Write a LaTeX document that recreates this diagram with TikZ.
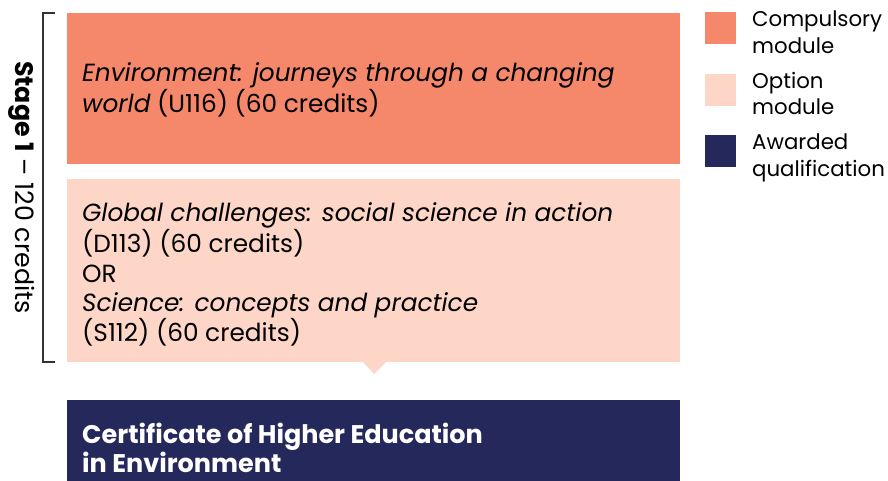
\documentclass[tikz,border=0pt]{standalone}
\usepackage{fontspec}
\setmainfont{Poppins}
\definecolor{comp}{HTML}{F5876B}
\definecolor{opt}{HTML}{FDD6C8}
\definecolor{navy}{HTML}{25285B}
\definecolor{brk}{HTML}{333333}
\begin{document}
\begin{tikzpicture}[x=1pt,y=-1pt,
  box/.style={inner sep=0},
  main/.style={anchor=base west,align=left,inner sep=0,font=\fontsize{24.8}{29.8}\selectfont},
  leg/.style={anchor=base west,align=left,inner sep=0,font=\fontsize{21.3}{26.5}\selectfont},
  swatch/.style={inner sep=0}]
\useasboundingbox (0,0) rectangle (888,481);
\fill[white] (0,0) rectangle (888,481);
% boxes
\fill[comp] (67,13) rectangle (680,164);
\node[box] (comp) at (373.5,88.5) {};
\fill[opt] (67,179) rectangle (680,362);
\fill[opt] (362,361) -- (374,374) -- (387,361) -- cycle;
\node[box] (opt) at (373.5,270.5) {};
\fill[navy] (67,400) rectangle (680,481);
\node[box] (cert) at (373.5,440) {};
% texts
\node[main] (t1) at (82,112.3) {\textit{Environment: journeys through a changing}\\\textit{world} (U116) (60 credits)};
\node[main] (t2) at (82,341.7) {\textit{Global challenges: social science in action}\\(D113) (60 credits)\\OR\\\textit{Science: concepts and practice}\\(S112) (60 credits)};
\node[main,text=white,font=\fontsize{25.5}{29}\selectfont\bfseries] (t3) at (82,472) {Certificate of Higher Education\\in Environment};
% bracket
\draw[brk,line width=1.2pt] (55,13) -- (43,13) -- (43,362) -- (55,362);
\node[rotate=-90,inner sep=0,font=\fontsize{25.3}{30}\selectfont] (stage) at (22,187.5) {\textbf{Stage 1} – 120 credits};
% legend
\fill[comp] (705,12) rectangle (736,44);
\fill[opt] (705,74) rectangle (736,106);
\fill[navy] (705,135) rectangle (736,167);
\node[leg] (l1) at (752,53.5) {Compulsory\\module};
\node[leg] (l2) at (752,115) {Option\\module};
\node[leg] (l3) at (752,176) {Awarded\\qualification};
\end{tikzpicture}
\end{document}
